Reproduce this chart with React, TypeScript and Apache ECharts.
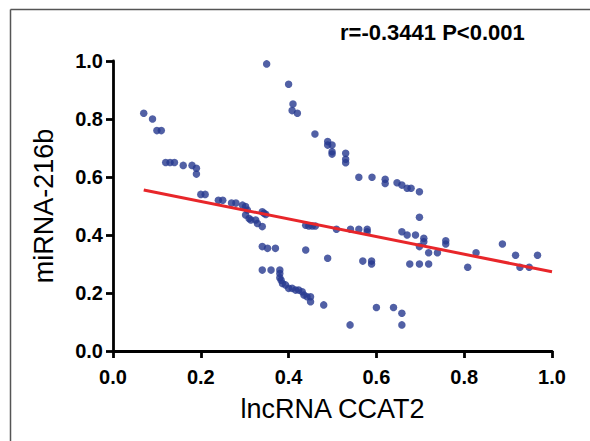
import React, { useEffect, useRef } from "react";
import * as echarts from "echarts";

// lncRNA CCAT2 (x) vs miRNA-216b (y)
const xValues: number[] = [
  0.07, 0.09, 0.10, 0.11, 0.12, 0.13, 0.14, 0.16, 0.18, 0.19, 0.19, 0.20, 0.21, 0.24, 0.25,
  0.27, 0.28, 0.295, 0.302, 0.306, 0.302, 0.31, 0.314, 0.325, 0.329, 0.34, 0.34, 0.348, 0.344,
  0.34, 0.352, 0.37, 0.34, 0.36, 0.38, 0.38, 0.38, 0.383, 0.386, 0.393, 0.40, 0.408, 0.416,
  0.423, 0.431, 0.435, 0.442, 0.45, 0.45, 0.48, 0.54,
  0.35, 0.40, 0.41, 0.408, 0.42, 0.46, 0.489, 0.489, 0.499, 0.499, 0.499, 0.53, 0.53, 0.53,
  0.56, 0.59, 0.62, 0.62, 0.647, 0.658, 0.67, 0.679, 0.698,
  0.439, 0.446, 0.454, 0.461, 0.439, 0.489, 0.509, 0.541, 0.56, 0.579, 0.579, 0.569, 0.589,
  0.589, 0.60, 0.639, 0.658, 0.658, 0.658, 0.67, 0.676, 0.698, 0.689, 0.708, 0.708, 0.698,
  0.719, 0.739, 0.758, 0.758, 0.698, 0.719, 0.808, 0.827, 0.887, 0.917, 0.927, 0.948, 0.967,
];
const yValues: number[] = [
  0.82, 0.80, 0.76, 0.76, 0.65, 0.65, 0.65, 0.64, 0.64, 0.63, 0.61, 0.54, 0.54, 0.52, 0.52,
  0.51, 0.51, 0.503, 0.498, 0.486, 0.469, 0.457, 0.452, 0.452, 0.44, 0.429, 0.48, 0.471, 0.475,
  0.36, 0.354, 0.354, 0.279, 0.279, 0.279, 0.267, 0.253, 0.244, 0.233, 0.228, 0.216, 0.216, 0.21,
  0.21, 0.204, 0.193, 0.187, 0.187, 0.17, 0.159, 0.09,
  0.99, 0.92, 0.852, 0.829, 0.82, 0.748, 0.722, 0.71, 0.71, 0.687, 0.679, 0.682, 0.661, 0.649,
  0.599, 0.599, 0.592, 0.578, 0.58, 0.572, 0.561, 0.561, 0.549,
  0.434, 0.431, 0.431, 0.431, 0.348, 0.32, 0.42, 0.42, 0.42, 0.42, 0.411, 0.31, 0.31,
  0.30, 0.15, 0.15, 0.13, 0.09, 0.411, 0.40, 0.30, 0.461, 0.40, 0.389, 0.377, 0.36,
  0.339, 0.339, 0.38, 0.369, 0.30, 0.30, 0.289, 0.339, 0.369, 0.33, 0.289, 0.289, 0.33,
];

const fitIntercept = 0.5766;
const fitSlope = -0.3035;
const fitRange: number[] = [0.07, 1.0];

const xTicks: string[] = ["0.0", "0.2", "0.4", "0.6", "0.8", "1.0"];
const yTicks: string[] = ["0.0", "0.2", "0.4", "0.6", "0.8", "1.0"];

const annotation = "r=-0.3441 P<0.001";
const xTitle = "lncRNA CCAT2";
const yTitle = "miRNA-216b";

export default function App() {
  const ref = useRef<HTMLDivElement>(null);
  useEffect(() => {
    if (!ref.current) return;
    document.body.style.margin = "0";
    const chart = echarts.init(ref.current, undefined, { renderer: "svg" });
    const points = xValues.map((x, i) => [x, yValues[i]]);
    const fit = fitRange.map((x) => [x, fitIntercept + fitSlope * x]);
    const font = "'Liberation Sans', Arial, sans-serif";
    const axisCommon = {
      type: "value" as const,
      min: 0,
      max: 1,
      interval: 0.2,
      splitLine: { show: false },
      axisLine: { show: true, lineStyle: { color: "#000", width: 2.8 } },
      axisTick: { show: true, length: 7, lineStyle: { color: "#000", width: 2.8 } },
    };
    chart.setOption({
      animation: false,
      backgroundColor: "#fff",
      grid: { left: 113, right: 38, top: 61, bottom: 90 },
      xAxis: {
        ...axisCommon,
        name: xTitle,
        nameLocation: "middle",
        nameGap: 44,
        nameTextStyle: { fontFamily: font, fontSize: 27, color: "#000" },
        axisLabel: {
          margin: 16,
          fontFamily: font,
          fontSize: 20,
          fontWeight: "bold",
          color: "#000",
          formatter: (v: number) => xTicks[Math.round(v * 5)] ?? "",
        },
      },
      yAxis: {
        ...axisCommon,
        name: yTitle,
        nameLocation: "middle",
        nameGap: 56,
        nameRotate: 90,
        nameTextStyle: { fontFamily: font, fontSize: 27, color: "#000" },
        axisLabel: {
          margin: 10,
          fontFamily: font,
          fontSize: 20,
          fontWeight: "bold",
          color: "#000",
          formatter: (v: number) => yTicks[Math.round(v * 5)] ?? "",
        },
      },
      graphic: [
        {
          type: "line",
          shape: { x1: 10.5, y1: 9.5, x2: 10.5, y2: 441 },
          style: { stroke: "#555", lineWidth: 1.5 },
        },
        {
          type: "line",
          shape: { x1: 10.5, y1: 9.5, x2: 590, y2: 9.5 },
          style: { stroke: "#555", lineWidth: 1.5 },
        },
        {
          type: "text",
          left: 340,
          top: 21,
          style: {
            text: annotation,
            fontFamily: font,
            fontSize: 22,
            fontWeight: "bold",
            fill: "#000",
          },
        },
      ],
      series: [
        {
          type: "scatter",
          data: points,
          symbol: "circle",
          symbolSize: 7.5,
          itemStyle: { color: "#26388f" },
          z: 3,
        },
        {
          type: "line",
          data: fit,
          symbol: "none",
          lineStyle: { color: "#e8262a", width: 3 },
          z: 4,
        },
      ],
    });
    return () => chart.dispose();
  }, []);
  return <div ref={ref} style={{ width: 590, height: 441 }} />;
}
